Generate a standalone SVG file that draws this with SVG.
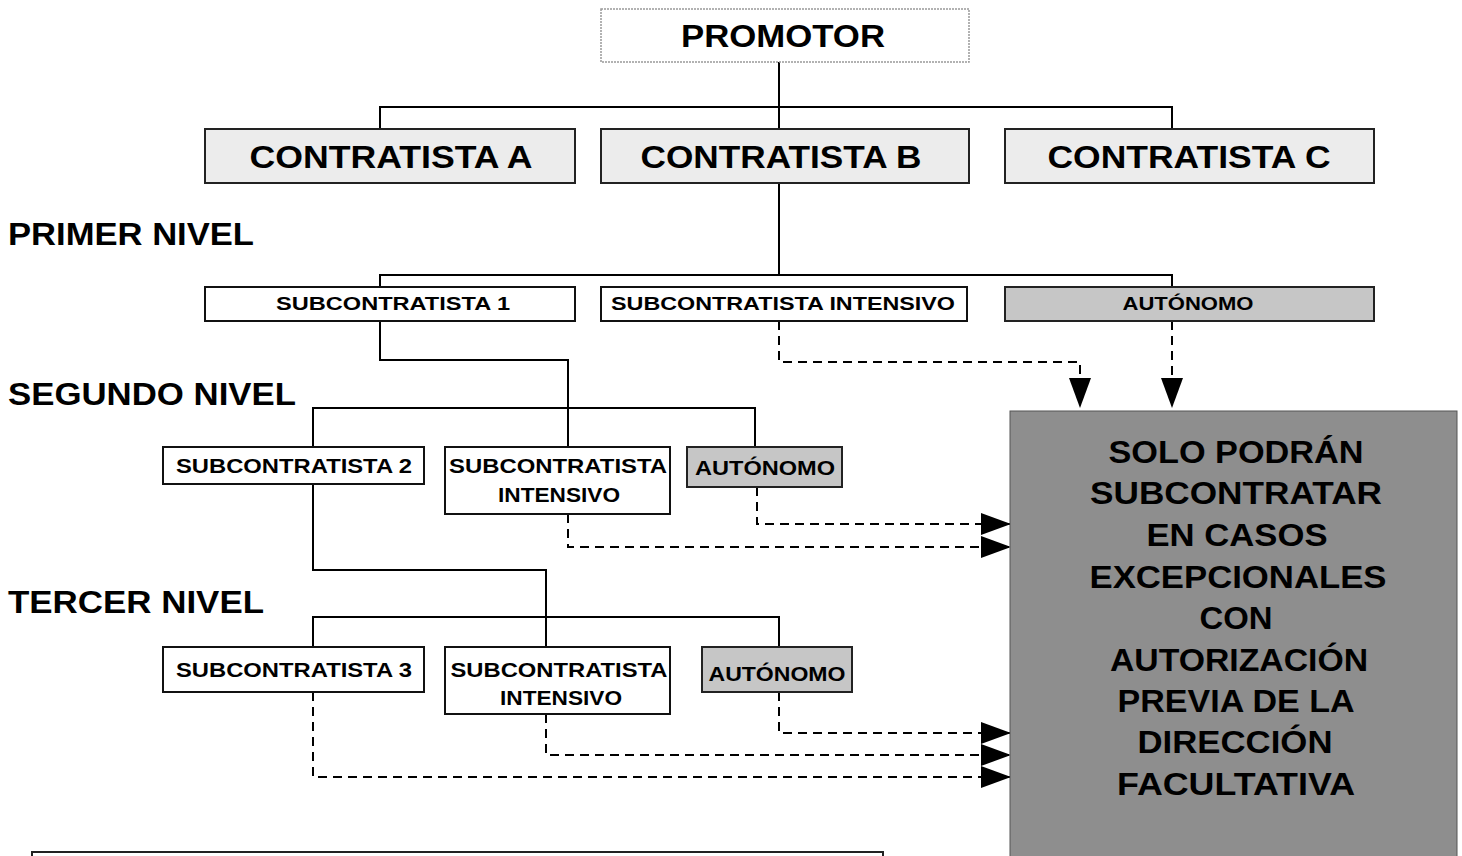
<svg xmlns="http://www.w3.org/2000/svg" width="1462" height="856" viewBox="0 0 1462 856">
<defs>
<marker id="arr" markerUnits="userSpaceOnUse" markerWidth="30" markerHeight="22" viewBox="0 0 30 22" refX="29" refY="11" orient="auto">
<path d="M0,0 L30,11 L0,22 Z" fill="#000"/>
</marker>
</defs>
<style>
text{font-family:"Liberation Sans",Arial,sans-serif;font-weight:bold;fill:#000}
.big{font-size:31px}
.lvl{font-size:31px}
.sm{font-size:18px}
.md{font-size:20px}
.note{font-size:32px}
.box{fill:#fff;stroke:#111;stroke-width:2}
.light{fill:#ececec;stroke:#222;stroke-width:2}
.auto{fill:#c6c6c6;stroke:#222;stroke-width:2}
.solid{fill:none;stroke:#000;stroke-width:2}
.dash{fill:none;stroke:#000;stroke-width:2;stroke-dasharray:9 6;marker-end:url(#arr)}
</style>
<rect width="1462" height="856" fill="#fff"/>

<g id="connectors">
<path class="solid" d="M779,62 V107 M380,130 V107 H1172 V130 M779,107 V130"/>
<path class="solid" d="M779,183 V275 M380,287 V275 H1172 V287"/>
<path class="solid" d="M380,321 V360 H568 V447 M313,447 V408 H755 V447"/>
<path class="solid" d="M313,484 V570 H546 V647 M313,647 V617 H779 V647"/>
<path class="dash" d="M779,321 V362 H1080 V407"/>
<path class="dash" d="M1172,321 V407"/>
<path class="dash" d="M757,487 V524 H1010"/>
<path class="dash" d="M568,514 V547 H1010"/>
<path class="dash" d="M779,692 V733 H1010"/>
<path class="dash" d="M546,714 V755 H1010"/>
<path class="dash" d="M313,692 V777 H1010"/>
</g>

<g id="promotor">
<rect x="601" y="9" width="368" height="53" fill="#fff" stroke="#999" stroke-width="1.5" stroke-dasharray="2 1"/>
<text class="big" x="783" y="47" text-anchor="middle" textLength="204" lengthAdjust="spacingAndGlyphs">PROMOTOR</text>
</g>
<g id="contratista-a">
<rect class="light" x="205" y="129" width="370" height="54"/>
<text class="big" x="391" y="168" text-anchor="middle" textLength="283" lengthAdjust="spacingAndGlyphs">CONTRATISTA A</text>
</g>
<g id="contratista-b">
<rect class="light" x="601" y="129" width="368" height="54"/>
<text class="big" x="781" y="168" text-anchor="middle" textLength="281" lengthAdjust="spacingAndGlyphs">CONTRATISTA B</text>
</g>
<g id="contratista-c">
<rect class="light" x="1005" y="129" width="369" height="54"/>
<text class="big" x="1189" y="168" text-anchor="middle" textLength="283" lengthAdjust="spacingAndGlyphs">CONTRATISTA C</text>
</g>

<g id="labels">
<text class="lvl" x="8" y="245" textLength="246" lengthAdjust="spacingAndGlyphs">PRIMER NIVEL</text>
<text class="lvl" x="8" y="405" textLength="288" lengthAdjust="spacingAndGlyphs">SEGUNDO NIVEL</text>
<text class="lvl" x="8" y="613" textLength="256" lengthAdjust="spacingAndGlyphs">TERCER NIVEL</text>
</g>

<g id="sub1">
<rect class="box" x="205" y="287" width="370" height="34"/>
<text class="sm" x="393" y="310" text-anchor="middle" textLength="234" lengthAdjust="spacingAndGlyphs">SUBCONTRATISTA 1</text>
</g>
<g id="sub-int-1">
<rect class="box" x="601" y="287" width="366" height="34"/>
<text class="sm" x="783" y="310" text-anchor="middle" textLength="344" lengthAdjust="spacingAndGlyphs">SUBCONTRATISTA INTENSIVO</text>
</g>
<g id="autonomo-1">
<rect class="auto" x="1005" y="287" width="369" height="34"/>
<text class="sm" x="1188" y="310" text-anchor="middle" textLength="131" lengthAdjust="spacingAndGlyphs">AUTÓNOMO</text>
</g>

<g id="sub2">
<rect class="box" x="163" y="447" width="261" height="37"/>
<text class="md" x="294" y="473" text-anchor="middle" textLength="236" lengthAdjust="spacingAndGlyphs">SUBCONTRATISTA 2</text>
</g>
<g id="sub-int-2">
<rect class="box" x="445" y="447" width="225" height="67"/>
<text class="md" x="558" y="473" text-anchor="middle" textLength="218" lengthAdjust="spacingAndGlyphs">SUBCONTRATISTA</text>
<text class="md" x="559" y="502" text-anchor="middle" textLength="122" lengthAdjust="spacingAndGlyphs">INTENSIVO</text>
</g>
<g id="autonomo-2">
<rect class="auto" x="687" y="447" width="155" height="40"/>
<text class="md" x="765" y="475" text-anchor="middle" textLength="140" lengthAdjust="spacingAndGlyphs">AUTÓNOMO</text>
</g>

<g id="sub3">
<rect class="box" x="163" y="647" width="261" height="45"/>
<text class="md" x="294" y="677" text-anchor="middle" textLength="236" lengthAdjust="spacingAndGlyphs">SUBCONTRATISTA 3</text>
</g>
<g id="sub-int-3">
<rect class="box" x="445" y="647" width="225" height="67"/>
<text class="md" x="559" y="677" text-anchor="middle" textLength="217" lengthAdjust="spacingAndGlyphs">SUBCONTRATISTA</text>
<text class="md" x="561" y="705" text-anchor="middle" textLength="122" lengthAdjust="spacingAndGlyphs">INTENSIVO</text>
</g>
<g id="autonomo-3">
<rect class="auto" x="702" y="647" width="150" height="45"/>
<text class="md" x="777" y="681" text-anchor="middle" textLength="137" lengthAdjust="spacingAndGlyphs">AUTÓNOMO</text>
</g>

<g id="nota">
<rect x="1010" y="411" width="447" height="460" fill="#8e8e8e" stroke="#555" stroke-width="1"/>
<text class="note" x="1236" y="463" text-anchor="middle" textLength="255" lengthAdjust="spacingAndGlyphs">SOLO PODRÁN</text>
<text class="note" x="1236" y="504" text-anchor="middle" textLength="292" lengthAdjust="spacingAndGlyphs">SUBCONTRATAR</text>
<text class="note" x="1237" y="546" text-anchor="middle" textLength="181" lengthAdjust="spacingAndGlyphs">EN CASOS</text>
<text class="note" x="1238" y="588" text-anchor="middle" textLength="297" lengthAdjust="spacingAndGlyphs">EXCEPCIONALES</text>
<text class="note" x="1236" y="629" text-anchor="middle" textLength="73" lengthAdjust="spacingAndGlyphs">CON</text>
<text class="note" x="1239" y="671" text-anchor="middle" textLength="258" lengthAdjust="spacingAndGlyphs">AUTORIZACIÓN</text>
<text class="note" x="1236" y="712" text-anchor="middle" textLength="237" lengthAdjust="spacingAndGlyphs">PREVIA DE LA</text>
<text class="note" x="1235" y="753" text-anchor="middle" textLength="195" lengthAdjust="spacingAndGlyphs">DIRECCIÓN</text>
<text class="note" x="1236" y="795" text-anchor="middle" textLength="238" lengthAdjust="spacingAndGlyphs">FACULTATIVA</text>
</g>

<g id="bottom-box">
<rect x="32" y="852" width="851" height="20" fill="#fff" stroke="#222" stroke-width="2"/>
</g>
</svg>
